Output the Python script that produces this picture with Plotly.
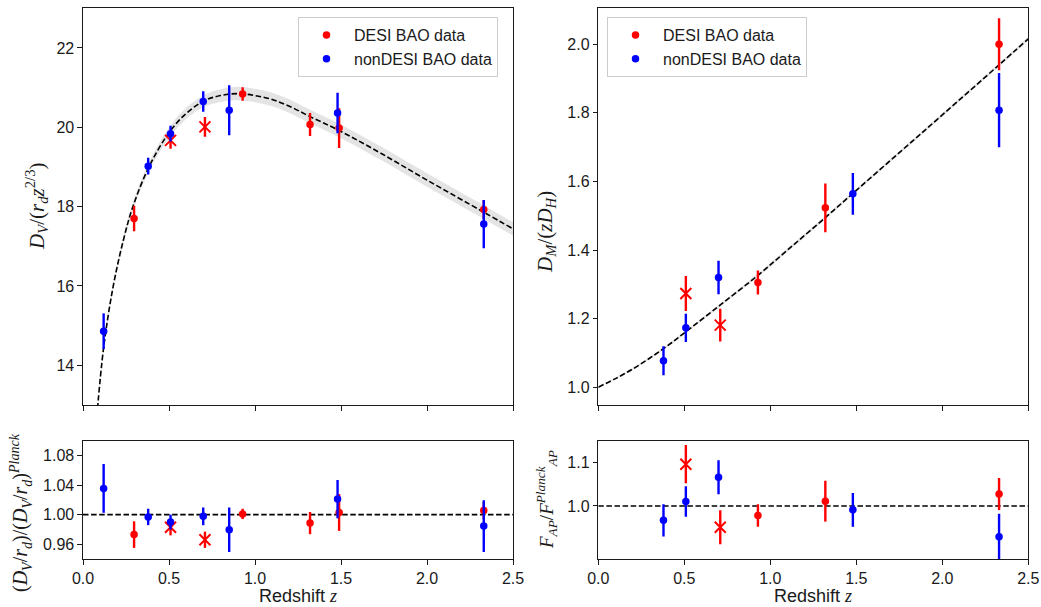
import plotly.graph_objects as go

# ---------------- data ----------------
# DESI BAO data
desi_z = [0.297, 0.509, 0.709, 0.928, 1.320, 1.489, 2.330]
desi_cross = [False, True, True, False, False, False, False]
desi_dv = [17.70, 19.67, 20.01, 20.84, 20.07, 19.98, 17.93]
desi_dv_err = [0.32, 0.21, 0.25, 0.17, 0.29, 0.50, 0.24]
desi_dv_ratio = [0.973, 0.983, 0.966, 1.001, 0.9886, 1.003, 1.0055]
desi_dv_ratio_err = [0.018, 0.011, 0.011, 0.007, 0.015, 0.025, 0.012]

desi_ap_z = [0.509, 0.709, 0.928, 1.320, 2.330]
desi_ap_cross = [True, True, False, False, False]
desi_dm = [1.273, 1.181, 1.305, 1.523, 2.000]
desi_dm_err = [0.051, 0.048, 0.035, 0.071, 0.076]
desi_fap_ratio = [1.096, 0.951, 0.978, 1.011, 1.0275]
desi_fap_ratio_err = [0.044, 0.039, 0.026, 0.047, 0.037]

# non-DESI BAO data
non_z = [0.120, 0.379, 0.509, 0.699, 0.850, 1.480, 2.330]
non_dv = [14.86, 19.02, 19.84, 20.65, 20.43, 20.36, 17.56]
non_dv_err = [0.45, 0.21, 0.20, 0.26, 0.63, 0.51, 0.61]
non_dv_ratio = [1.0355, 0.9968, 0.990, 0.9977, 0.9795, 1.021, 0.9845]
non_dv_ratio_err = [0.033, 0.011, 0.010, 0.012, 0.030, 0.026, 0.035]

non_ap_z = [0.379, 0.509, 0.699, 1.480, 2.330]
non_dm = [1.077, 1.173, 1.320, 1.564, 1.808]
non_dm_err = [0.042, 0.041, 0.049, 0.061, 0.108]
non_fap_ratio = [0.967, 1.010, 1.066, 0.991, 0.929]
non_fap_ratio_err = [0.037, 0.035, 0.039, 0.039, 0.053]

# Planck model curves
dv_curve_z = [0.08, 0.12, 0.175, 0.235, 0.29, 0.38, 0.485, 0.58, 0.70, 0.80,
              0.90, 1.00, 1.10, 1.20, 1.32, 1.48, 1.73, 2.00, 2.33, 2.50]
dv_curve = [12.70, 14.45, 15.98, 17.16, 18.00, 18.97, 19.77, 20.27, 20.66, 20.80,
            20.85, 20.80, 20.70, 20.53, 20.27, 19.94, 19.35, 18.67, 17.86, 17.44]
dv_band = [0.06, 0.07, 0.08, 0.09, 0.10, 0.11, 0.13, 0.14, 0.15, 0.16,
           0.17, 0.17, 0.17, 0.17, 0.17, 0.17, 0.17, 0.17, 0.17, 0.17]

dm_curve_z = [0.0, 0.10, 0.20, 0.30, 0.40, 0.51, 0.71, 0.93, 1.10, 1.30,
              1.50, 1.75, 2.00, 2.33, 2.50]
dm_curve = [1.000, 1.025, 1.053, 1.085, 1.120, 1.162, 1.240, 1.327, 1.400, 1.486,
            1.574, 1.684, 1.794, 1.940, 2.016]
dm_band = [0.0, 0.002, 0.003, 0.003, 0.004, 0.004, 0.004, 0.005, 0.005, 0.005,
           0.005, 0.005, 0.005, 0.005, 0.005]

ref_line_z = [0.0, 2.5]
ref_line = [1.0, 1.0]

x_ticks = [0.0, 0.5, 1.0, 1.5, 2.0, 2.5]
y_ticks_dv = [14, 16, 18, 20, 22]
y_ticks_dm = [1.0, 1.2, 1.4, 1.6, 1.8, 2.0]
y_ticks_dv_ratio = [0.96, 1.00, 1.04, 1.08]
y_ticks_fap_ratio = [1.0, 1.1]

# ---------------- styling ----------------
RED = "#ff0000"
BLUE = "#0000ff"
BAND = "rgb(228,228,228)"
INK = "#1a1a1a"
SANS = "Liberation Sans, Arial, sans-serif"
SERIF = "Liberation Serif, Times New Roman, serif"

fig = go.Figure()


def band(xa, ya, zs, ys, ws):
    upper = [y + w for y, w in zip(ys, ws)]
    lower = [y - w for y, w in zip(ys, ws)]
    fig.add_trace(go.Scatter(x=zs, y=upper, xaxis=xa, yaxis=ya, mode="lines",
                             line=dict(width=0, color=BAND, shape="spline"),
                             showlegend=False, hoverinfo="skip"))
    fig.add_trace(go.Scatter(x=zs, y=lower, xaxis=xa, yaxis=ya, mode="lines",
                             line=dict(width=0, color=BAND, shape="spline"),
                             fill="tonexty", fillcolor=BAND,
                             showlegend=False, hoverinfo="skip"))


def dashed(xa, ya, zs, ys, spline=True):
    fig.add_trace(go.Scatter(x=zs, y=ys, xaxis=xa, yaxis=ya, mode="lines",
                             line=dict(color="black", width=1.6, dash="5.5px,2.6px",
                                       shape="spline" if spline else "linear"),
                             showlegend=False, hoverinfo="skip"))


def points(xa, ya, zs, ys, es, color, cross_flags=None, name=None,
           legend=None, showlegend=False):
    if cross_flags is None:
        cross_flags = [False] * len(zs)
    circ = [i for i, c in enumerate(cross_flags) if not c]
    crs = [i for i, c in enumerate(cross_flags) if c]
    if crs:
        fig.add_trace(go.Scatter(
            x=[zs[i] for i in crs], y=[ys[i] for i in crs], xaxis=xa, yaxis=ya,
            mode="markers",
            marker=dict(symbol="x-thin", size=11, color=color,
                        line=dict(color=color, width=2)),
            error_y=dict(type="data", array=[es[i] for i in crs], width=0,
                         thickness=2.4, color=color),
            showlegend=False))
    if circ:
        kw = {}
        if legend:
            kw["legend"] = legend
        fig.add_trace(go.Scatter(
            x=[zs[i] for i in circ], y=[ys[i] for i in circ], xaxis=xa, yaxis=ya,
            mode="markers", name=name,
            marker=dict(symbol="circle", size=7.5, color=color),
            error_y=dict(type="data", array=[es[i] for i in circ], width=0,
                         thickness=2.4, color=color),
            showlegend=showlegend, **kw))


# top-left: D_V/(r_d z^(2/3))
band("x", "y", dv_curve_z, dv_curve, dv_band)
dashed("x", "y", dv_curve_z, dv_curve)
points("x", "y", desi_z, desi_dv, desi_dv_err, RED, desi_cross,
       name="DESI BAO data", legend="legend", showlegend=True)
points("x", "y", non_z, non_dv, non_dv_err, BLUE,
       name="nonDESI BAO data", legend="legend", showlegend=True)

# top-right: D_M/(z D_H)
band("x2", "y2", dm_curve_z, dm_curve, dm_band)
dashed("x2", "y2", dm_curve_z, dm_curve)
points("x2", "y2", desi_ap_z, desi_dm, desi_dm_err, RED, desi_ap_cross,
       name="DESI BAO data", legend="legend2", showlegend=True)
points("x2", "y2", non_ap_z, non_dm, non_dm_err, BLUE,
       name="nonDESI BAO data", legend="legend2", showlegend=True)

# bottom-left: D_V ratio
dashed("x3", "y3", ref_line_z, ref_line, spline=False)
points("x3", "y3", desi_z, desi_dv_ratio, desi_dv_ratio_err, RED, desi_cross)
points("x3", "y3", non_z, non_dv_ratio, non_dv_ratio_err, BLUE)

# bottom-right: F_AP ratio
dashed("x4", "y4", ref_line_z, ref_line, spline=False)
points("x4", "y4", desi_ap_z, desi_fap_ratio, desi_fap_ratio_err, RED, desi_ap_cross)
points("x4", "y4", non_ap_z, non_fap_ratio, non_fap_ratio_err, BLUE)

# ---------------- layout ----------------
W, H = 1041, 607
LX = [83 / W, 513 / W]
RX = [598.3 / W, 1028.3 / W]
TY = [1 - 405 / H, 1 - 8.3 / H]
BY = [1 - 559 / H, 1 - 440.7 / H]

axis_common = dict(showline=True, linecolor=INK, linewidth=1.1, mirror=True,
                   ticks="outside", ticklen=4.5, tickwidth=1.1, tickcolor=INK,
                   showgrid=False, zeroline=False, automargin=False,
                   tickfont=dict(family=SANS, size=16, color=INK))


def px_x(v):
    return v / W


def px_y(v):
    return 1 - v / H


titles = [
    # (text, x_px, y_px, angle, family, size)
    ("<i>D<sub>V</sub></i>/(<i>r<sub>d</sub>z</i><sup>2/3</sup>)", 37, 207, -90, SERIF, 21),
    ("<i>D<sub>M</sub></i>/(<i>zD<sub>H</sub></i>)", 546, 232, -90, SERIF, 21),
    ("(<i>D<sub>V</sub></i>/<i>r<sub>d</sub></i>)/(<i>D<sub>V</sub></i>/<i>r<sub>d</sub></i>)<sup><i>Planck</i></sup>",
     21, 513, -90, SERIF, 20),
    ("<i>F<sub>AP</sub></i>/<i>F</i><sup><i>Planck</i></sup><sub><i>AP</i></sub>", 546, 500, -90, SERIF, 19),
    ("Redshift <span style='font-family:Liberation Serif'><i>z</i></span>", 298, 596, 0, SANS, 18),
    ("Redshift <span style='font-family:Liberation Serif'><i>z</i></span>", 813, 596, 0, SANS, 18),
]
annotations = [dict(text=t, x=px_x(xp), y=px_y(yp), xref="paper", yref="paper",
                    xanchor="center", yanchor="middle", textangle=a, showarrow=False,
                    font=dict(family=f, size=s, color=INK))
               for t, xp, yp, a, f, s in titles]

legend_common = dict(xanchor="left", yanchor="top", bgcolor="white",
                     bordercolor="#cccccc", borderwidth=1, traceorder="normal",
                     font=dict(family=SANS, size=16, color=INK),
                     itemwidth=45, tracegroupgap=0)

fig.update_layout(
    width=W, height=H,
    margin=dict(l=0, r=0, t=0, b=0, autoexpand=False),
    plot_bgcolor="white", paper_bgcolor="white",
    xaxis=dict(domain=LX, anchor="y", range=[0, 2.5], tickvals=x_ticks,
               showticklabels=False, **axis_common),
    yaxis=dict(domain=TY, anchor="x", range=[13, 23], tickvals=y_ticks_dv, **axis_common),
    xaxis2=dict(domain=RX, anchor="y2", range=[0, 2.5], tickvals=x_ticks,
                showticklabels=False, **axis_common),
    yaxis2=dict(domain=TY, anchor="x2", range=[0.948, 2.105], tickvals=y_ticks_dm,
                tickformat=".1f", **axis_common),
    xaxis3=dict(domain=LX, anchor="y3", range=[0, 2.5], tickvals=x_ticks,
                tickformat=".1f", **axis_common),
    yaxis3=dict(domain=BY, anchor="x3", range=[0.94, 1.10], tickvals=y_ticks_dv_ratio,
                tickformat=".2f", **axis_common),
    xaxis4=dict(domain=RX, anchor="y4", range=[0, 2.5], tickvals=x_ticks,
                tickformat=".1f", **axis_common),
    yaxis4=dict(domain=BY, anchor="x4", range=[0.878, 1.15], tickvals=y_ticks_fap_ratio,
                tickformat=".1f", **axis_common),
    legend=dict(x=px_x(298), y=px_y(17), **legend_common),
    legend2=dict(x=px_x(607), y=px_y(17), **legend_common),
    annotations=annotations,
)

fig.write_html("out.html",
               config={"displayModeBar": False},
               post_script="document.body.style.margin='0px';"
                           "document.body.style.overflow='hidden';")
